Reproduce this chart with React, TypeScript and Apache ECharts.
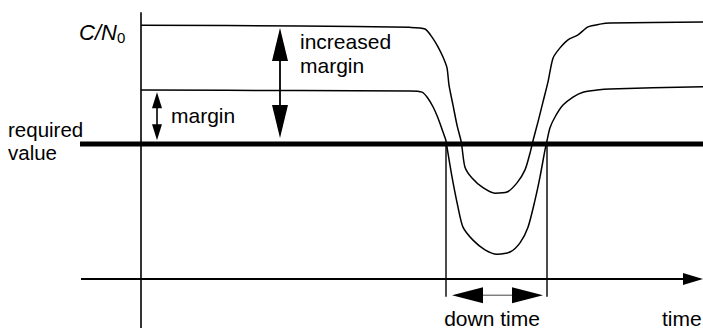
import React, { useEffect, useRef } from "react";
import * as echarts from "echarts";

// Time axis in arbitrary time units, level axis in dB (C/N0)
const highTime = [0, 15.9, 26.9, 28.4, 29.1, 29.7, 30.2, 30.6, 30.8, 31.2, 31.6, 32.0, 32.1, 32.4, 33.1, 34.2, 35.4, 36.6, 37.6, 38.4, 38.9, 39.2, 39.7, 40.2, 40.7, 41.2, 41.9, 42.7, 43.7, 44.7, 45.9, 46.9, 56.2];
const highLevel = [47.0, 46.85, 46.6, 46.3, 44.8, 43.0, 41.1, 39.1, 35.9, 32.2, 28.5, 25.6, 24.4, 20.7, 18.7, 16.9, 15.9, 16.1, 17.8, 20.2, 23.3, 25.6, 29.1, 32.8, 36.5, 40.9, 42.8, 44.3, 45.2, 46.7, 47.2, 47.4, 47.6];

const lowTime = [0, 15.9, 26.9, 28.1, 28.6, 29.2, 29.7, 30.2, 30.5, 30.6, 31.1, 31.7, 32.2, 33.2, 34.4, 35.6, 36.9, 37.9, 38.7, 39.4, 39.9, 40.4, 40.6, 40.9, 41.4, 42.2, 43.2, 44.2, 45.6, 46.9, 56.2];
const lowLevel = [35.0, 34.9, 34.8, 34.6, 33.7, 31.9, 29.8, 27.2, 25.6, 24.4, 18.9, 13.3, 9.6, 7.2, 5.4, 4.6, 5.0, 6.7, 9.6, 14.6, 18.9, 23.9, 25.6, 28.0, 30.0, 32.2, 33.7, 34.6, 35.0, 35.2, 35.6];

const requiredLevel = 25;
const requiredSpan = [-6.1, 56.2];

const timeAxisSpan = [-6.0, 56.2];
const levelAxisSpan = [49.4, -9.1];

const downTimeStart = 30.5;
const downTimeEnd = 40.6;
const downTimeMarkerBottom = -3.3;
const downTimeArrow = [31.1, -3.0, 40.2, -3.0];

const marginArrow = [1.6, 34.6, 1.6, 25.7];
const increasedArrow = [13.9, 46.5, 13.9, 26.1];

const zip = (xs: number[], ys: number[]) => xs.map((x, i) => [x, ys[i]]);

const FONT = "Liberation Sans";

function arrowSeries(
  data: number[][],
  headLen: number,
  headHalf: number,
  both: boolean,
  shaftWidth: number,
  shaftColor: string
) {
  return {
    type: "custom",
    coordinateSystem: "cartesian2d",
    data,
    clip: false,
    silent: true,
    z: 5,
    renderItem: (params: any, api: any) => {
      const a = api.coord([api.value(0), api.value(1)]);
      const b = api.coord([api.value(2), api.value(3)]);
      const dx = b[0] - a[0];
      const dy = b[1] - a[1];
      const len = Math.hypot(dx, dy) || 1;
      const ux = dx / len;
      const uy = dy / len;
      const nx = -uy;
      const ny = ux;
      const head = (tip: number[], dir: number) => {
        const bx = tip[0] - dir * ux * headLen;
        const by = tip[1] - dir * uy * headLen;
        return {
          type: "polygon",
          shape: {
            points: [
              [tip[0], tip[1]],
              [bx + nx * headHalf, by + ny * headHalf],
              [bx - nx * headHalf, by - ny * headHalf],
            ],
          },
          style: { fill: "#000" },
        };
      };
      const s = both ? [a[0] + ux * headLen * 0.9, a[1] + uy * headLen * 0.9] : a;
      const e = [b[0] - ux * headLen * 0.9, b[1] - uy * headLen * 0.9];
      const children: any[] = [
        {
          type: "line",
          shape: { x1: s[0], y1: s[1], x2: e[0], y2: e[1] },
          style: { stroke: shaftColor, lineWidth: shaftWidth },
        },
        head(b, 1),
      ];
      if (both) children.push(head(a, -1));
      return { type: "group", children };
    },
  };
}

function lineSeries(data: number[][], width: number, z = 2) {
  return {
    type: "line",
    data,
    showSymbol: false,
    symbol: "none",
    clip: false,
    silent: true,
    z,
    smooth: 0.25,
    lineStyle: { color: "#000", width },
  };
}

function straight(data: number[][], width: number, z = 3) {
  return { ...lineSeries(data, width, z), smooth: false };
}

const texts = [
  { text: "C/N", x: 117, y: 32, size: 22, align: "right", italic: true },
  { text: "0", x: 117, y: 37, size: 15, align: "left" },
  { text: "required", x: 8, y: 129, size: 20.5, align: "left" },
  { text: "value", x: 8, y: 152, size: 20.5, align: "left" },
  { text: "margin", x: 171, y: 115, size: 21, align: "left" },
  { text: "increased", x: 300, y: 41, size: 21, align: "left" },
  { text: "margin", x: 300, y: 65, size: 21, align: "left" },
  { text: "down time", x: 492, y: 318, size: 21, align: "center" },
  { text: "time", x: 662, y: 318, size: 21, align: "left" },
];

export default function App() {
  const ref = useRef<HTMLDivElement>(null);
  useEffect(() => {
    const chart = echarts.init(ref.current!, null, { renderer: "svg" });
    chart.setOption({
      animation: false,
      backgroundColor: "#fff",
      grid: { left: 0, right: 0, top: 0, bottom: 0 },
      xAxis: { type: "value", min: -14.1, max: 56.2, show: false },
      yAxis: { type: "value", min: -9.074, max: 51.667, show: false },
      series: [
        lineSeries(zip(highTime, highLevel), 1.5),
        lineSeries(zip(lowTime, lowLevel), 1.5),
        straight([[0, levelAxisSpan[0]], [0, levelAxisSpan[1]]], 1.6),
        straight([[downTimeStart, requiredLevel], [downTimeStart, downTimeMarkerBottom]], 1.4),
        straight([[downTimeEnd, requiredLevel], [downTimeEnd, downTimeMarkerBottom]], 1.4),
        straight([[requiredSpan[0], requiredLevel], [requiredSpan[1], requiredLevel]], 5, 4),
        arrowSeries([[timeAxisSpan[0], 0, timeAxisSpan[1], 0]], 20, 6, false, 1.8, "#000"),
        arrowSeries([marginArrow], 16, 5, true, 1.6, "#000"),
        arrowSeries([increasedArrow], 33, 8, true, 1.8, "#000"),
        arrowSeries([downTimeArrow], 31, 8, true, 1, "#444"),
      ],
      graphic: texts.map((t) => ({
        type: "text",
        x: t.x,
        y: t.y,
        silent: true,
        style: {
          text: t.text,
          fill: "#000",
          font: `${t.italic ? "italic " : ""}${t.size}px "${FONT}"`,
          fontSize: t.size,
          fontFamily: FONT,
          fontStyle: t.italic ? "italic" : "normal",
          align: t.align,
          verticalAlign: "middle",
        },
      })),
    });
    return () => chart.dispose();
  }, []);
  return (
    <div
      ref={ref}
      style={{ position: "fixed", left: 0, top: 0, width: 703, height: 328, background: "#fff" }}
    />
  );
}
